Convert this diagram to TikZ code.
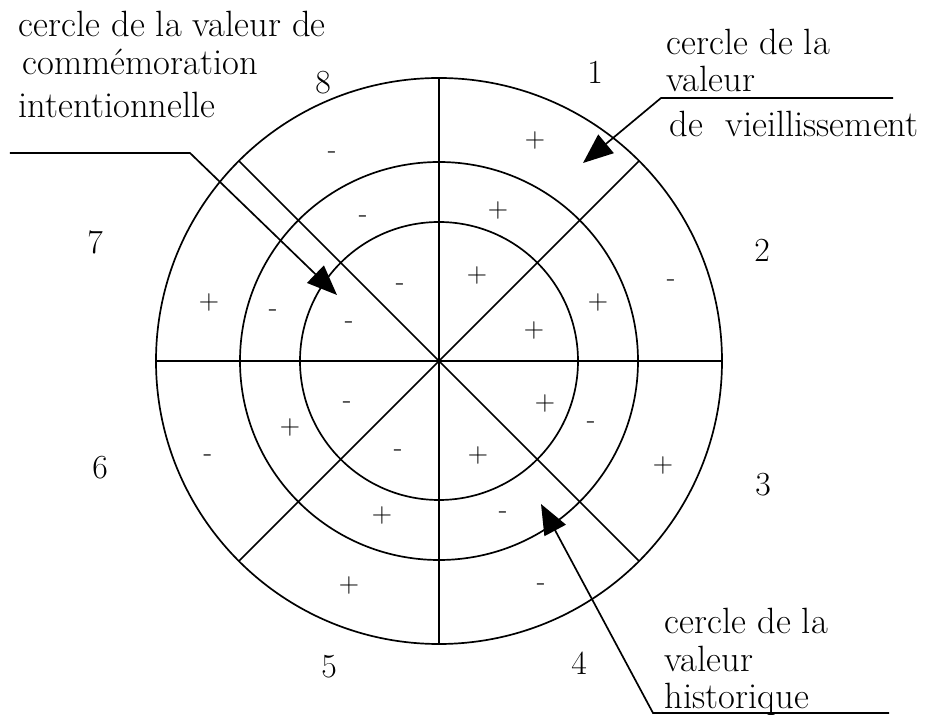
\documentclass[tikz,border=0pt]{standalone}
\usepackage{amssymb}
\usepackage{tikz}
\usetikzlibrary{arrows.meta}
\begin{document}
\begin{tikzpicture}[x=0.025cm,y=0.025cm,line width=1.2pt,
  sgn/.style={font=\fontsize{20}{24}\selectfont,inner sep=0pt},
  num/.style={font=\fontsize{24}{28}\selectfont,inner sep=0pt},
  lbl/.style={font=\fontsize{26}{30}\selectfont,inner sep=0pt,anchor=base west},
  pointer/.style={-{Triangle[length=0.75cm,width=0.6cm]}}]
\useasboundingbox (-439,-354) rectangle (493,361);
\coordinate (c) at (0,0);
\draw (c) circle (283);
\draw (c) circle (199);
\draw (c) circle (139);
\draw (90:283)--(270:283);
\draw (0:283)--(180:283);
\draw (45:283)--(225:283);
\draw (135:283)--(315:283);
\node[num] (n1) at (156,289) {1};
\node[num] (n2) at (323,111) {2};
\node[num] (n3) at (324,-124) {3};
\node[num] (n4) at (140,-302) {4};
\node[num] (n5) at (-110,-306) {5};
\node[num] (n6) at (-339,-107) {6};
\node[num] (n7) at (-344,119) {7};
\node[num] (n8) at (-116,278) {8};
\node[sgn] (s1o) at (96,221) {+};
\node[sgn] (s1m) at (59,151) {+};
\node[sgn] (s1i) at (38,86) {+};
\node[sgn] (s2o) at (232,78) {-};
\node[sgn] (s2m) at (159,59) {+};
\node[sgn] (s2i) at (95,31) {+};
\node[sgn] (s3o) at (224,-104) {+};
\node[sgn] (s3m) at (152,-64) {-};
\node[sgn] (s3i) at (106,-42) {+};
\node[sgn] (s4o) at (102,-226) {-};
\node[sgn] (s4m) at (64,-154) {-};
\node[sgn] (s4i) at (39,-94) {+};
\node[sgn] (s5o) at (-90,-224) {+};
\node[sgn] (s5m) at (-57,-154) {+};
\node[sgn] (s5i) at (-41,-92) {-};
\node[sgn] (s6o) at (-231,-97) {-};
\node[sgn] (s6m) at (-149,-66) {+};
\node[sgn] (s6i) at (-92,-44) {-};
\node[sgn] (s7o) at (-230,59) {+};
\node[sgn] (s7m) at (-166,48) {-};
\node[sgn] (s7i) at (-90,36) {-};
\node[sgn] (s8o) at (-107,206) {-};
\node[sgn] (s8m) at (-76,142) {-};
\node[sgn] (s8i) at (-39,74) {-};
\node[lbl] (ci1) at (-421,324) {cercle de la valeur de};
\node[lbl] (ci2) at (-417,286) {commémoration};
\node[lbl] (ci3) at (-421,243) {intentionnelle};
\node[lbl] (vv1) at (227,306) {cercle de la};
\node[lbl] (vv2) at (227,269) {valeur};
\node[lbl] (vv3) at (230,224) {de\ \ vieillissement};
\node[lbl] (vh1) at (225,-272) {cercle de la};
\node[lbl] (vh2) at (225,-310) {valeur};
\node[lbl] (vh3) at (225,-347) {historique};
\coordinate (ci-a) at (-429,208);
\coordinate (ci-b) at (-249,208);
\coordinate (ci-t) at (-102,66);
\coordinate (vv-a) at (454,263);
\coordinate (vv-b) at (222,263);
\coordinate (vv-t) at (144,198);
\coordinate (vh-a) at (450,-352);
\coordinate (vh-b) at (214,-352);
\coordinate (vh-t) at (102,-143);
\draw[pointer] (ci-a)--(ci-b)--(ci-t);
\draw[pointer] (vv-a)--(vv-b)--(vv-t);
\draw[pointer] (vh-a)--(vh-b)--(vh-t);
\end{tikzpicture}
\end{document}
